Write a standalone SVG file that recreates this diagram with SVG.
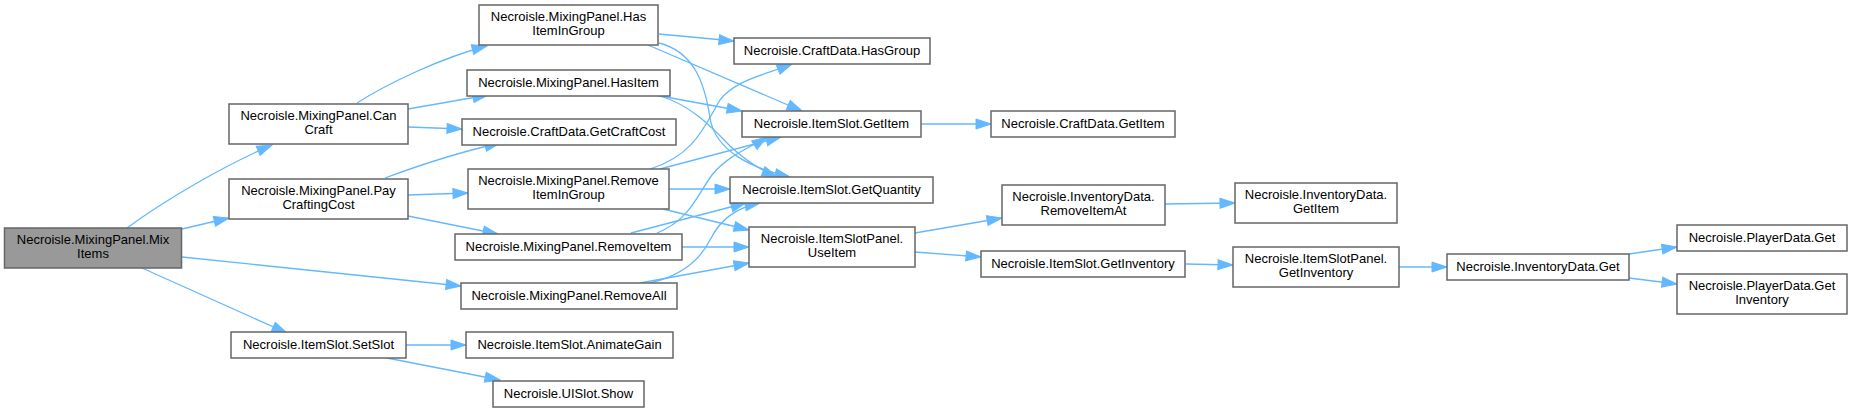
<svg xmlns="http://www.w3.org/2000/svg" width="1852" height="413" viewBox="0 0 1852 413">
<defs>
<style>
.n rect{fill:#ffffff;stroke:#666666;stroke-width:1.5}
.n.root rect{fill:#999999}
.n text{font-family:"Liberation Sans",Arial,sans-serif;font-size:13px;fill:#000000;text-anchor:middle}
.e path{fill:none;stroke:#63b8ff;stroke-width:1.3;marker-end:url(#ah)}
</style>
<marker id="ah" markerUnits="userSpaceOnUse" markerWidth="16" markerHeight="12" refX="15" refY="5" orient="auto" overflow="visible">
<path d="M0,0 L15,5 L0,10 z" fill="#63b8ff" stroke="#63b8ff" stroke-width="1"/>
</marker>
</defs>
<rect width="1852" height="413" fill="#ffffff"/>
<g id="edges" class="e">
<path d="M127,228 C165,200 225,165 272,145"/>
<path d="M182,229 L229,218"/>
<path d="M182,257 L461,286"/>
<path d="M142,268 L287,333"/>
<path d="M357,103 C385,85 440,58 487,46"/>
<path d="M408,109 L488,95"/>
<path d="M408,127 L462,129"/>
<path d="M385,178 C420,165 460,152 500,143"/>
<path d="M408,195 L468,193"/>
<path d="M408,216 L498,234"/>
<path d="M406,345 L466,345"/>
<path d="M387,358 L500,380"/>
<path d="M659,34 L734,41"/>
<path d="M648,45 L802,111"/>
<path d="M659,43 C695,52 705,85 710,118 C715,150 750,168 790,177"/>
<path d="M655,95 L742,111"/>
<path d="M660,96 C690,105 710,125 730,146 C745,160 760,170 777,177"/>
<path d="M650,169 C695,155 705,125 720,100 C735,80 765,75 792,64"/>
<path d="M660,169 L781,137"/>
<path d="M669,189 L730,189"/>
<path d="M663,209 L749,230"/>
<path d="M657,233 C690,220 697,195 712,175 C728,155 750,148 767,137"/>
<path d="M631,233 L746,203"/>
<path d="M682,247 L749,247"/>
<path d="M650,283 C680,276 700,260 710,240 C720,220 735,208 760,203"/>
<path d="M640,283 L749,263"/>
<path d="M921,124 L991,124"/>
<path d="M915,233 L1002,218"/>
<path d="M915,252 L981,257"/>
<path d="M1165,204 L1235,203"/>
<path d="M1186,264 L1233,265"/>
<path d="M1399,267 L1447,267"/>
<path d="M1629,254 L1677,247"/>
<path d="M1629,278 L1677,284"/>
</g>
<g id="n_mixitems" class="n root"><rect x="4.5" y="228" width="177" height="40"/><text x="93" y="244">Necroisle.MixingPanel.Mix</text><text x="93" y="258">Items</text></g>
<g id="n_cancraft" class="n"><rect x="229" y="104" width="179" height="40"/><text x="318.5" y="120">Necroisle.MixingPanel.Can</text><text x="318.5" y="134">Craft</text></g>
<g id="n_paycraftingcost" class="n"><rect x="229" y="179" width="179" height="40"/><text x="318.5" y="195">Necroisle.MixingPanel.Pay</text><text x="318.5" y="209">CraftingCost</text></g>
<g id="n_setslot" class="n"><rect x="231" y="332" width="175" height="26"/><text x="318.5" y="349">Necroisle.ItemSlot.SetSlot</text></g>
<g id="n_hasitemingroup" class="n"><rect x="479" y="5" width="179" height="40"/><text x="568.5" y="21">Necroisle.MixingPanel.Has</text><text x="568.5" y="35">ItemInGroup</text></g>
<g id="n_hasitem" class="n"><rect x="467" y="70" width="203" height="26"/><text x="568.5" y="87">Necroisle.MixingPanel.HasItem</text></g>
<g id="n_getcraftcost" class="n"><rect x="462" y="119" width="214" height="26"/><text x="569" y="136">Necroisle.CraftData.GetCraftCost</text></g>
<g id="n_removeitemingroup" class="n"><rect x="468" y="169" width="201" height="40"/><text x="568.5" y="185">Necroisle.MixingPanel.Remove</text><text x="568.5" y="199">ItemInGroup</text></g>
<g id="n_removeitem" class="n"><rect x="455" y="234" width="227" height="26"/><text x="568.5" y="251">Necroisle.MixingPanel.RemoveItem</text></g>
<g id="n_removeall" class="n"><rect x="461" y="283" width="216" height="26"/><text x="569" y="300">Necroisle.MixingPanel.RemoveAll</text></g>
<g id="n_animategain" class="n"><rect x="466" y="332" width="207" height="26"/><text x="569.5" y="349">Necroisle.ItemSlot.AnimateGain</text></g>
<g id="n_show" class="n"><rect x="493" y="381" width="151" height="26"/><text x="568.5" y="398">Necroisle.UISlot.Show</text></g>
<g id="n_hasgroup" class="n"><rect x="734" y="38" width="196" height="26"/><text x="832" y="55">Necroisle.CraftData.HasGroup</text></g>
<g id="n_itemslot_getitem" class="n"><rect x="742" y="111" width="179" height="26"/><text x="831.5" y="128">Necroisle.ItemSlot.GetItem</text></g>
<g id="n_getquantity" class="n"><rect x="730" y="177" width="203" height="26"/><text x="831.5" y="194">Necroisle.ItemSlot.GetQuantity</text></g>
<g id="n_useitem" class="n"><rect x="749" y="227" width="166" height="40"/><text x="832" y="243">Necroisle.ItemSlotPanel.</text><text x="832" y="257">UseItem</text></g>
<g id="n_craftdata_getitem" class="n"><rect x="991" y="111" width="184" height="26"/><text x="1083" y="128">Necroisle.CraftData.GetItem</text></g>
<g id="n_removeitemat" class="n"><rect x="1002" y="185" width="163" height="40"/><text x="1083.5" y="201">Necroisle.InventoryData.</text><text x="1083.5" y="215">RemoveItemAt</text></g>
<g id="n_itemslot_getinventory" class="n"><rect x="981" y="251" width="204" height="26"/><text x="1083" y="268">Necroisle.ItemSlot.GetInventory</text></g>
<g id="n_inventorydata_getitem" class="n"><rect x="1235" y="183" width="162" height="40"/><text x="1316" y="199">Necroisle.InventoryData.</text><text x="1316" y="213">GetItem</text></g>
<g id="n_itemslotpanel_getinventory" class="n"><rect x="1233" y="247" width="166" height="40"/><text x="1316" y="263">Necroisle.ItemSlotPanel.</text><text x="1316" y="277">GetInventory</text></g>
<g id="n_inventorydata_get" class="n"><rect x="1447" y="254" width="182" height="26"/><text x="1538" y="271">Necroisle.InventoryData.Get</text></g>
<g id="n_playerdata_get" class="n"><rect x="1677" y="225" width="170" height="26"/><text x="1762" y="242">Necroisle.PlayerData.Get</text></g>
<g id="n_playerdata_getinventory" class="n"><rect x="1677" y="274" width="170" height="40"/><text x="1762" y="290">Necroisle.PlayerData.Get</text><text x="1762" y="304">Inventory</text></g>
</svg>
